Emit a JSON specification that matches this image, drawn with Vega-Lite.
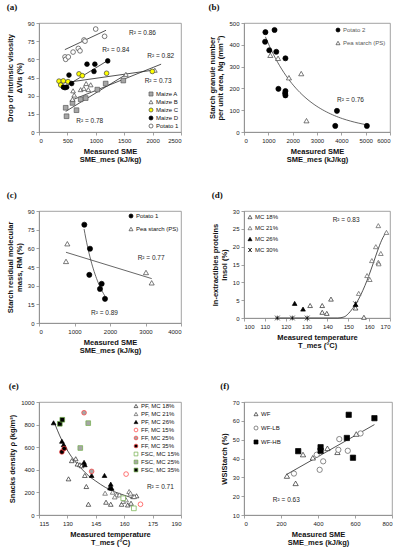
{
  "$schema": "https://vega.github.io/schema/vega-lite/v6.json",
  "padding": {"left": 6, "top": 2, "right": 0, "bottom": 0},
  "background": "white",
  "bounds": "flush",
  "columns": 2,
  "spacing": {"row": 79, "column": 63},
  "resolve": {"scale": {"shape": "independent", "fill": "independent", "stroke": "independent"}},
  "config": {
    "font": "Liberation Sans",
    "view": {"stroke": "#8c8c8c", "strokeWidth": 0.8},
    "axis": {
      "grid": false, "format": "d", "labelFontSize": 6, "labelColor": "#1a1a1a", "labelPadding": 2, "labelOverlap": false,
      "titleFontSize": 7.5, "titleFontWeight": "bold", "titleColor": "#111111", "titleLineHeight": 8.5, "titlePadding": 4,
      "domainColor": "#8c8c8c", "domainWidth": 0.8, "tickColor": "#8c8c8c", "tickWidth": 0.8, "tickSize": 3
    },
    "legend": {"labelFontSize": 6, "labelColor": "#111111", "symbolSize": 16, "symbolStrokeWidth": 0.7, "padding": 0, "rowPadding": 1, "labelOffset": 2},
    "title": {"font": "Liberation Serif", "fontSize": 9, "fontWeight": "bold", "anchor": "start", "frame": "bounds", "color": "#111111"}
  },
  "datasets": {
    "a_pts": [
      {"series": "Maize A", "sme": 470, "dvis": 20}, {"series": "Maize A", "sme": 485, "dvis": 13},
      {"series": "Maize A", "sme": 660, "dvis": 18}, {"series": "Maize A", "sme": 590, "dvis": 24},
      {"series": "Maize A", "sme": 734, "dvis": 27}, {"series": "Maize A", "sme": 822, "dvis": 28},
      {"series": "Maize A", "sme": 1027, "dvis": 35}, {"series": "Maize A", "sme": 1174, "dvis": 40},
      {"series": "Maize A", "sme": 1484, "dvis": 42.5},
      {"series": "Maize B", "sme": 590, "dvis": 27}, {"series": "Maize B", "sme": 600, "dvis": 34},
      {"series": "Maize B", "sme": 620, "dvis": 30.5}, {"series": "Maize B", "sme": 733, "dvis": 35},
      {"series": "Maize B", "sme": 790, "dvis": 36}, {"series": "Maize B", "sme": 830, "dvis": 40},
      {"series": "Maize B", "sme": 868, "dvis": 35}, {"series": "Maize B", "sme": 910, "dvis": 39},
      {"series": "Maize B", "sme": 1530, "dvis": 47.6}, {"series": "Maize B", "sme": 2040, "dvis": 51},
      {"series": "Maize C", "sme": 352, "dvis": 42}, {"series": "Maize C", "sme": 382, "dvis": 38.8},
      {"series": "Maize C", "sme": 428, "dvis": 42.2}, {"series": "Maize C", "sme": 511, "dvis": 41.6},
      {"series": "Maize C", "sme": 704, "dvis": 48}, {"series": "Maize C", "sme": 763, "dvis": 46.5},
      {"series": "Maize C", "sme": 1190, "dvis": 48.5}, {"series": "Maize C", "sme": 1995, "dvis": 50},
      {"series": "Maize D", "sme": 430, "dvis": 37}, {"series": "Maize D", "sme": 458, "dvis": 36.6},
      {"series": "Maize D", "sme": 487, "dvis": 37}, {"series": "Maize D", "sme": 528, "dvis": 47},
      {"series": "Maize D", "sme": 575, "dvis": 40}, {"series": "Maize D", "sme": 845, "dvis": 56},
      {"series": "Maize D", "sme": 983, "dvis": 56}, {"series": "Maize D", "sme": 968, "dvis": 50},
      {"series": "Maize D", "sme": 1210, "dvis": 58.7},
      {"series": "Potato 1", "sme": 458, "dvis": 62}, {"series": "Potato 1", "sme": 470, "dvis": 60},
      {"series": "Potato 1", "sme": 516, "dvis": 62}, {"series": "Potato 1", "sme": 600, "dvis": 66},
      {"series": "Potato 1", "sme": 692, "dvis": 69}, {"series": "Potato 1", "sme": 722, "dvis": 67},
      {"series": "Potato 1", "sme": 792, "dvis": 76}, {"series": "Potato 1", "sme": 810, "dvis": 75},
      {"series": "Potato 1", "sme": 998, "dvis": 85}, {"series": "Potato 1", "sme": 1155, "dvis": 79}
    ],
    "a_fit": [
      {"series": "Maize A", "sme": 470, "dvis": 17}, {"series": "Maize A", "sme": 1550, "dvis": 48},
      {"series": "Maize B", "sme": 560, "dvis": 26}, {"series": "Maize B", "sme": 2150, "dvis": 56},
      {"series": "Maize C", "sme": 350, "dvis": 40}, {"series": "Maize C", "sme": 2000, "dvis": 51},
      {"series": "Maize D", "sme": 410, "dvis": 36}, {"series": "Maize D", "sme": 1210, "dvis": 59},
      {"series": "Potato 1", "sme": 455, "dvis": 68}, {"series": "Potato 1", "sme": 1180, "dvis": 84}
    ],
    "a_r2": [
      {"label": "R² = 0.86", "sme": 1585, "dvis": 82}, {"label": "R² = 0.84", "sme": 1115, "dvis": 68},
      {"label": "R² = 0.82", "sme": 1907, "dvis": 63}, {"label": "R² = 0.73", "sme": 1860, "dvis": 42},
      {"label": "R² = 0.78", "sme": 657, "dvis": 9}
    ],
    "b_pts": [
      {"series": "Potato 2", "sme": 880, "ng": 458}, {"series": "Potato 2", "sme": 866, "ng": 414},
      {"series": "Potato 2", "sme": 1255, "ng": 468}, {"series": "Potato 2", "sme": 1039, "ng": 375},
      {"series": "Potato 2", "sme": 1327, "ng": 368}, {"series": "Potato 2", "sme": 1703, "ng": 338},
      {"series": "Potato 2", "sme": 1414, "ng": 198}, {"series": "Potato 2", "sme": 1703, "ng": 188},
      {"series": "Potato 2", "sme": 1690, "ng": 178}, {"series": "Potato 2", "sme": 1703, "ng": 168},
      {"series": "Potato 2", "sme": 3750, "ng": 28}, {"series": "Potato 2", "sme": 3820, "ng": 97},
      {"series": "Potato 2", "sme": 5050, "ng": 28},
      {"series": "Pea starch (PS)", "sme": 1082, "ng": 352}, {"series": "Pea starch (PS)", "sme": 1400, "ng": 338},
      {"series": "Pea starch (PS)", "sme": 1847, "ng": 249}, {"series": "Pea starch (PS)", "sme": 2352, "ng": 268},
      {"series": "Pea starch (PS)", "sme": 2568, "ng": 52}
    ],
    "b_r2": [{"label": "R² = 0.76", "sme": 3824, "ng": 146}],
    "c_pts": [
      {"series": "Potato 1", "sme": 1277, "rm": 79}, {"series": "Potato 1", "sme": 1437, "rm": 59.7},
      {"series": "Potato 1", "sme": 1417, "rm": 38.7}, {"series": "Potato 1", "sme": 1765, "rm": 31.5},
      {"series": "Potato 1", "sme": 1718, "rm": 27.4}, {"series": "Potato 1", "sme": 1859, "rm": 19.4},
      {"series": "Pea starch (PS)", "sme": 798, "rm": 63.7}, {"series": "Pea starch (PS)", "sme": 761, "rm": 49.5},
      {"series": "Pea starch (PS)", "sme": 3014, "rm": 40.6}, {"series": "Pea starch (PS)", "sme": 3174, "rm": 32.3}
    ],
    "c_r2": [{"label": "R² = 0.77", "sme": 2779, "rm": 52}, {"label": "R² = 0.89", "sme": 1465, "rm": 8}],
    "d_pts": [
      {"series": "MC 18%", "t": 131.7, "insol": 3.5}, {"series": "MC 18%", "t": 137.5, "insol": 3.5},
      {"series": "MC 18%", "t": 137.5, "insol": 1.6}, {"series": "MC 18%", "t": 139.7, "insol": 1.3},
      {"series": "MC 18%", "t": 141.7, "insol": 5.3}, {"series": "MC 18%", "t": 157.5, "insol": 0.2},
      {"series": "MC 18%", "t": 153.5, "insol": 2.8},
      {"series": "MC 21%", "t": 155, "insol": 6.9}, {"series": "MC 21%", "t": 159, "insol": 11.9},
      {"series": "MC 21%", "t": 160.3, "insol": 10.8}, {"series": "MC 21%", "t": 161.3, "insol": 16.1},
      {"series": "MC 21%", "t": 163.2, "insol": 20}, {"series": "MC 21%", "t": 164.4, "insol": 25.9},
      {"series": "MC 21%", "t": 165.6, "insol": 18.1}, {"series": "MC 21%", "t": 164.4, "insol": 15.6},
      {"series": "MC 21%", "t": 164.6, "insol": 15.2}, {"series": "MC 21%", "t": 168.3, "insol": 24},
      {"series": "MC 26%", "t": 124.3, "insol": 4.1}, {"series": "MC 26%", "t": 128.3, "insol": 2.5},
      {"series": "MC 26%", "t": 153.5, "insol": 3.8},
      {"series": "MC 30%", "t": 116, "insol": 0}, {"series": "MC 30%", "t": 123.2, "insol": 0},
      {"series": "MC 30%", "t": 130.3, "insol": 0}, {"series": "MC 30%", "t": 153.5, "insol": 4}
    ],
    "d_fit": [
      {"t": 115, "insol": 0}, {"t": 130, "insol": 0}, {"t": 145, "insol": 0}, {"t": 148, "insol": 0.3},
      {"t": 150, "insol": 1.2}, {"t": 152, "insol": 2.6}, {"t": 154, "insol": 4.3}, {"t": 156, "insol": 6.5},
      {"t": 158, "insol": 9.1}, {"t": 160, "insol": 12.1}, {"t": 162, "insol": 15.4}, {"t": 164, "insol": 18.8},
      {"t": 166, "insol": 21.8}, {"t": 168.3, "insol": 24.2}
    ],
    "d_r2": [{"label": "R² = 0.83", "t": 142.5, "insol": 27.5}],
    "e_pts": [
      {"series": "PF, MC 18%", "t": 130.6, "rho": 320}, {"series": "PF, MC 18%", "t": 132.3, "rho": 481},
      {"series": "PF, MC 18%", "t": 134.4, "rho": 498}, {"series": "PF, MC 18%", "t": 135.3, "rho": 451},
      {"series": "PF, MC 18%", "t": 136.6, "rho": 445}, {"series": "PF, MC 18%", "t": 137.5, "rho": 436},
      {"series": "PF, MC 18%", "t": 139.2, "rho": 350}, {"series": "PF, MC 18%", "t": 140, "rho": 252},
      {"series": "PF, MC 18%", "t": 141.1, "rho": 95}, {"series": "PF, MC 18%", "t": 150.4, "rho": 113},
      {"series": "PF, MC 18%", "t": 152.9, "rho": 95}, {"series": "PF, MC 18%", "t": 158.6, "rho": 95},
      {"series": "PF, MC 18%", "t": 160.2, "rho": 148}, {"series": "PF, MC 18%", "t": 161.9, "rho": 89},
      {"series": "PF, MC 18%", "t": 163.6, "rho": 104}, {"series": "PF, MC 18%", "t": 164.7, "rho": 163},
      {"series": "PF, MC 18%", "t": 166.5, "rho": 170},
      {"series": "PF, MC 21%", "t": 149.9, "rho": 193}, {"series": "PF, MC 21%", "t": 152.5, "rho": 252},
      {"series": "PF, MC 21%", "t": 153.9, "rho": 202}, {"series": "PF, MC 21%", "t": 156, "rho": 178},
      {"series": "PF, MC 21%", "t": 157.5, "rho": 178}, {"series": "PF, MC 21%", "t": 159.5, "rho": 120},
      {"series": "PF, MC 21%", "t": 162.6, "rho": 208}, {"series": "PF, MC 21%", "t": 163.3, "rho": 193},
      {"series": "PF, MC 21%", "t": 161, "rho": 134}, {"series": "PF, MC 21%", "t": 165.3, "rho": 163},
      {"series": "PF, MC 21%", "t": 155, "rho": 160},
      {"series": "PF, MC 26%", "t": 122.7, "rho": 816}, {"series": "PF, MC 26%", "t": 127.1, "rho": 653},
      {"series": "PF, MC 26%", "t": 128, "rho": 623}, {"series": "PF, MC 26%", "t": 128.6, "rho": 600},
      {"series": "PF, MC 26%", "t": 138.8, "rho": 466}, {"series": "PF, MC 26%", "t": 139.2, "rho": 445},
      {"series": "PF, MC 26%", "t": 142.8, "rho": 350}, {"series": "PF, MC 26%", "t": 149.6, "rho": 350},
      {"series": "PF, MC 26%", "t": 153.4, "rho": 237}, {"series": "PF, MC 26%", "t": 152.9, "rho": 273},
      {"series": "PF, MC 26%", "t": 152.5, "rho": 240},
      {"series": "FF, MC 15%", "t": 161, "rho": 362}, {"series": "FF, MC 15%", "t": 168.6, "rho": 95},
      {"series": "FF, MC 25%", "t": 138.8, "rho": 905}, {"series": "FF, MC 25%", "t": 142.8, "rho": 386},
      {"series": "FF, MC 35%", "t": 127.1, "rho": 558}, {"series": "FF, MC 35%", "t": 128.3, "rho": 588},
      {"series": "FSC, MC 15%", "t": 159.5, "rho": 148}, {"series": "FSC, MC 15%", "t": 165.1, "rho": 59},
      {"series": "FSC, MC 25%", "t": 141, "rho": 813}, {"series": "FSC, MC 25%", "t": 136.8, "rho": 593},
      {"series": "FSC, MC 35%", "t": 126, "rho": 807}, {"series": "FSC, MC 35%", "t": 127.3, "rho": 843}
    ],
    "e_fit": [
      {"t": 123.4, "rho": 805}, {"t": 126, "rho": 700}, {"t": 129, "rho": 600}, {"t": 132, "rho": 520},
      {"t": 135, "rho": 455}, {"t": 138, "rho": 400}, {"t": 141, "rho": 350}, {"t": 145, "rho": 300},
      {"t": 150, "rho": 245}, {"t": 155, "rho": 205}, {"t": 160, "rho": 175}, {"t": 164.5, "rho": 150}
    ],
    "e_r2": [{"label": "R² = 0.71", "t": 172, "rho": 245}],
    "f_pts": [
      {"series": "WF", "sme": 232, "wsi": 30.7}, {"series": "WF", "sme": 279, "wsi": 26.8},
      {"series": "WF", "sme": 319, "wsi": 42.1}, {"series": "WF", "sme": 372, "wsi": 40.4},
      {"series": "WF", "sme": 451, "wsi": 45.4}, {"series": "WF", "sme": 607, "wsi": 53},
      {"series": "WF", "sme": 505, "wsi": 43.3},
      {"series": "WF-LB", "sme": 270, "wsi": 32}, {"series": "WF-LB", "sme": 393, "wsi": 42},
      {"series": "WF-LB", "sme": 428, "wsi": 38.5}, {"series": "WF-LB", "sme": 409, "wsi": 34},
      {"series": "WF-LB", "sme": 515, "wsi": 50.3}, {"series": "WF-LB", "sme": 510, "wsi": 44.6},
      {"series": "WF-LB", "sme": 561, "wsi": 44.1}, {"series": "WF-LB", "sme": 630, "wsi": 53.3},
      {"series": "WF-HB", "sme": 293, "wsi": 43.9}, {"series": "WF-HB", "sme": 414, "wsi": 46},
      {"series": "WF-HB", "sme": 414, "wsi": 44.1}, {"series": "WF-HB", "sme": 566, "wsi": 63.2},
      {"series": "WF-HB", "sme": 556, "wsi": 50.9}, {"series": "WF-HB", "sme": 589, "wsi": 40.4},
      {"series": "WF-HB", "sme": 705, "wsi": 61.4}
    ],
    "f_fit": [{"sme": 230, "wsi": 31.5}, {"sme": 705, "wsi": 58}],
    "f_r2": [{"label": "R² = 0.63", "sme": 156, "wsi": 17.7}]
  },
  "concat": [
    {
      "title": {"text": "(a)", "offset": 8},
      "width": 142, "height": 109,
      "encoding": {
        "x": {"field": "sme", "type": "quantitative", "scale": {"domain": [0, 2500], "nice": false},
          "axis": {"values": [0, 500, 1000, 1500, 2000, 2500], "title": ["Measured SME", "SME_mes (kJ/kg)"]}},
        "y": {"field": "dvis", "type": "quantitative", "scale": {"domain": [0, 90], "nice": false},
          "axis": {"values": [0, 15, 30, 45, 60, 75, 90], "title": ["Drop of intrinsic visosity", "ΔVIs (%)"]}}
      },
      "layer": [
        {"data": {"name": "a_fit"}, "mark": {"type": "line", "color": "#262626", "strokeWidth": 0.8},
          "encoding": {"detail": {"field": "series", "type": "nominal"}}},
        {"data": {"name": "a_pts"}, "mark": {"type": "point", "filled": true, "size": 22, "strokeWidth": 0.7, "opacity": 1},
          "encoding": {
            "shape": {"field": "series", "type": "nominal", "title": null,
              "scale": {"domain": ["Maize A", "Maize B", "Maize C", "Maize D", "Potato 1"], "range": ["square", "triangle-up", "circle", "circle", "circle"]},
              "legend": {"orient": "bottom-right", "offset": 2, "rowPadding": 0}},
            "fill": {"field": "series", "type": "nominal", "title": null,
              "scale": {"domain": ["Maize A", "Maize B", "Maize C", "Maize D", "Potato 1"], "range": ["#a6a6a6", "#ffffff", "#ffff00", "#000000", "#ffffff"]},
              "legend": {"orient": "bottom-right", "offset": 2, "rowPadding": 0}},
            "stroke": {"field": "series", "type": "nominal", "title": null,
              "scale": {"domain": ["Maize A", "Maize B", "Maize C", "Maize D", "Potato 1"], "range": ["#595959", "#404040", "#404040", "#000000", "#404040"]},
              "legend": {"orient": "bottom-right", "offset": 2, "rowPadding": 0}}
          }},
        {"data": {"name": "a_r2"}, "mark": {"type": "text", "align": "left", "baseline": "middle", "fontSize": 6.5, "color": "#262626"},
          "encoding": {"text": {"field": "label", "type": "nominal"}}}
      ]
    },
    {
      "title": {"text": "(b)", "offset": 8},
      "width": 146, "height": 109,
      "encoding": {
        "x": {"field": "sme", "type": "quantitative", "scale": {"domain": [0, 6000], "nice": false},
          "axis": {"values": [0, 1000, 2000, 3000, 4000, 5000, 6000], "title": ["Measured SME", "SME_mes (kJ/kg)"]}},
        "y": {"field": "ng", "type": "quantitative", "scale": {"domain": [0, 500], "nice": false},
          "axis": {"values": [0, 100, 200, 300, 400, 500], "title": ["Starch granule number", "per unit area, Ng (mm⁻²)"]}}
      },
      "layer": [
        {"data": {"name": "b_pts"}, "transform": [{"regression": "ng", "on": "sme", "method": "exp", "extent": [880, 5050]}],
          "mark": {"type": "line", "color": "#404040", "strokeWidth": 0.8}, "encoding": {}},
        {"data": {"name": "b_pts"}, "mark": {"type": "point", "filled": true, "size": 26, "strokeWidth": 0.7, "opacity": 1},
          "encoding": {
            "shape": {"field": "series", "type": "nominal", "title": null,
              "scale": {"domain": ["Potato 2", "Pea starch (PS)"], "range": ["circle", "triangle-up"]},
              "legend": {"orient": "top-right", "offset": 4, "rowPadding": 5, "labelColor": "#595959"}},
            "fill": {"field": "series", "type": "nominal", "title": null,
              "scale": {"domain": ["Potato 2", "Pea starch (PS)"], "range": ["#000000", "#ffffff"]},
              "legend": {"orient": "top-right", "offset": 4, "rowPadding": 5, "labelColor": "#595959"}},
            "stroke": {"field": "series", "type": "nominal", "title": null,
              "scale": {"domain": ["Potato 2", "Pea starch (PS)"], "range": ["#000000", "#404040"]},
              "legend": {"orient": "top-right", "offset": 4, "rowPadding": 5, "labelColor": "#595959"}}
          }},
        {"data": {"name": "b_r2"}, "mark": {"type": "text", "align": "left", "baseline": "middle", "fontSize": 6.5, "color": "#262626"},
          "encoding": {"text": {"field": "label", "type": "nominal"}}}
      ]
    },
    {
      "title": {"text": "(c)", "offset": 8},
      "width": 142, "height": 112,
      "encoding": {
        "x": {"field": "sme", "type": "quantitative", "scale": {"domain": [0, 4000], "nice": false},
          "axis": {"values": [0, 1000, 2000, 3000, 4000], "title": ["Measured SME", "SME_mes (kJ/kg)"]}},
        "y": {"field": "rm", "type": "quantitative", "scale": {"domain": [0, 90], "nice": false},
          "axis": {"values": [0, 15, 30, 45, 60, 75, 90], "title": ["Starch residual molecular", "mass, RM (%)"]}}
      },
      "layer": [
        {"data": {"name": "c_pts"}, "transform": [{"filter": "datum.series === 'Potato 1'"}, {"regression": "rm", "on": "sme", "method": "exp", "extent": [1270, 1860]}],
          "mark": {"type": "line", "color": "#404040", "strokeWidth": 0.8}, "encoding": {}},
        {"data": {"name": "c_pts"}, "transform": [{"filter": "datum.series === 'Pea starch (PS)'"}, {"regression": "rm", "on": "sme", "extent": [760, 3175]}],
          "mark": {"type": "line", "color": "#404040", "strokeWidth": 0.8}, "encoding": {}},
        {"data": {"name": "c_pts"}, "mark": {"type": "point", "filled": true, "size": 26, "strokeWidth": 0.7, "opacity": 1},
          "encoding": {
            "shape": {"field": "series", "type": "nominal", "title": null,
              "scale": {"domain": ["Potato 1", "Pea starch (PS)"], "range": ["circle", "triangle-up"]},
              "legend": {"orient": "top-right", "offset": 2, "rowPadding": 5}},
            "fill": {"field": "series", "type": "nominal", "title": null,
              "scale": {"domain": ["Potato 1", "Pea starch (PS)"], "range": ["#000000", "#ffffff"]},
              "legend": {"orient": "top-right", "offset": 2, "rowPadding": 5}},
            "stroke": {"field": "series", "type": "nominal", "title": null,
              "scale": {"domain": ["Potato 1", "Pea starch (PS)"], "range": ["#000000", "#404040"]},
              "legend": {"orient": "top-right", "offset": 2, "rowPadding": 5}}
          }},
        {"data": {"name": "c_r2"}, "mark": {"type": "text", "align": "left", "baseline": "middle", "fontSize": 6.5, "color": "#262626"},
          "encoding": {"text": {"field": "label", "type": "nominal"}}}
      ]
    },
    {
      "title": {"text": "(d)", "offset": 8},
      "width": 146, "height": 107,
      "encoding": {
        "x": {"field": "t", "type": "quantitative", "scale": {"domain": [100, 170], "nice": false, "zero": false},
          "axis": {"values": [100, 110, 120, 130, 140, 150, 160, 170], "title": ["Measured temperature", "T_mes (°C)"]}},
        "y": {"field": "insol", "type": "quantitative", "scale": {"domain": [0, 30], "nice": false},
          "axis": {"values": [0, 5, 10, 15, 20, 25, 30], "title": ["In-extractibles proteins", "Insol (%)"]}}
      },
      "layer": [
        {"data": {"name": "d_fit"}, "mark": {"type": "line", "color": "#262626", "strokeWidth": 0.8, "interpolate": "monotone"}, "encoding": {}},
        {"data": {"name": "d_pts"}, "mark": {"type": "point", "filled": true, "size": 22, "strokeWidth": 0.7, "opacity": 1},
          "encoding": {
            "shape": {"field": "series", "type": "nominal", "title": null,
              "scale": {"domain": ["MC 18%", "MC 21%", "MC 26%", "MC 30%"], "range": ["triangle-up", "triangle-up", "triangle-up", "M-1,-1L1,1M-1,1L1,-1M0,-1L0,1"]},
              "legend": {"orient": "top-left", "offset": 3, "rowPadding": 3}},
            "fill": {"field": "series", "type": "nominal", "title": null,
              "scale": {"domain": ["MC 18%", "MC 21%", "MC 26%", "MC 30%"], "range": ["#ffffff", "#ffffff", "#000000", "transparent"]},
              "legend": {"orient": "top-left", "offset": 3, "rowPadding": 3}},
            "stroke": {"field": "series", "type": "nominal", "title": null,
              "scale": {"domain": ["MC 18%", "MC 21%", "MC 26%", "MC 30%"], "range": ["#262626", "#595959", "#000000", "#000000"]},
              "legend": {"orient": "top-left", "offset": 3, "rowPadding": 3}}
          }},
        {"data": {"name": "d_r2"}, "mark": {"type": "text", "align": "left", "baseline": "middle", "fontSize": 6.5, "color": "#262626"},
          "encoding": {"text": {"field": "label", "type": "nominal"}}}
      ]
    },
    {
      "title": {"text": "(e)", "offset": 8},
      "width": 142, "height": 113,
      "encoding": {
        "x": {"field": "t", "type": "quantitative", "scale": {"domain": [115, 190], "nice": false, "zero": false},
          "axis": {"values": [115, 130, 145, 160, 175, 190], "title": ["Measured temperature", "T_mes (°C)"]}},
        "y": {"field": "rho", "type": "quantitative", "scale": {"domain": [0, 1000], "nice": false},
          "axis": {"values": [0, 200, 400, 600, 800, 1000], "title": "Snacks density ρ (kg/m³)"}}
      },
      "layer": [
        {"data": {"name": "e_fit"}, "mark": {"type": "line", "color": "#262626", "strokeWidth": 0.8, "interpolate": "monotone"}, "encoding": {}},
        {"data": {"name": "e_pts"}, "mark": {"type": "point", "filled": true, "size": 22, "strokeWidth": 0.7, "opacity": 1},
          "encoding": {
            "shape": {"field": "series", "type": "nominal", "title": null,
              "scale": {"domain": ["PF, MC 18%", "PF, MC 21%", "PF, MC 26%", "FF, MC 15%", "FF, MC 25%", "FF, MC 35%", "FSC, MC 15%", "FSC, MC 25%", "FSC, MC 35%"],
                "range": ["triangle-up", "triangle-up", "triangle-up", "circle", "circle", "circle", "square", "square", "square"]},
              "legend": {"orient": "top-right", "offset": 1, "rowPadding": 0, "symbolSize": 14}},
            "fill": {"field": "series", "type": "nominal", "title": null,
              "scale": {"domain": ["PF, MC 18%", "PF, MC 21%", "PF, MC 26%", "FF, MC 15%", "FF, MC 25%", "FF, MC 35%", "FSC, MC 15%", "FSC, MC 25%", "FSC, MC 35%"],
                "range": ["#ffffff", "#ffffff", "#000000", "#ffffff", "#a6a6a6", "#000000", "#ffffff", "#a6a6a6", "#000000"]},
              "legend": {"orient": "top-right", "offset": 1, "rowPadding": 0, "symbolSize": 14}},
            "stroke": {"field": "series", "type": "nominal", "title": null,
              "scale": {"domain": ["PF, MC 18%", "PF, MC 21%", "PF, MC 26%", "FF, MC 15%", "FF, MC 25%", "FF, MC 35%", "FSC, MC 15%", "FSC, MC 25%", "FSC, MC 35%"],
                "range": ["#262626", "#595959", "#000000", "#ff3b3b", "#ff3b3b", "#ff3b3b", "#70ad47", "#70ad47", "#70ad47"]},
              "legend": {"orient": "top-right", "offset": 1, "rowPadding": 0, "symbolSize": 14}}
          }},
        {"data": {"name": "e_r2"}, "mark": {"type": "text", "align": "left", "baseline": "middle", "fontSize": 6.5, "color": "#262626"},
          "encoding": {"text": {"field": "label", "type": "nominal"}}}
      ]
    },
    {
      "title": {"text": "(f)", "offset": 8},
      "width": 148, "height": 113,
      "encoding": {
        "x": {"field": "sme", "type": "quantitative", "scale": {"domain": [0, 800], "nice": false},
          "axis": {"values": [0, 200, 400, 600, 800], "title": ["Measured SME", "SME_mes (kJ/kg)"]}},
        "y": {"field": "wsi", "type": "quantitative", "scale": {"domain": [10, 70], "nice": false, "zero": false},
          "axis": {"values": [10, 20, 30, 40, 50, 60, 70], "title": "WSIStarch (%)"}}
      },
      "layer": [
        {"data": {"name": "f_fit"}, "mark": {"type": "line", "color": "#262626", "strokeWidth": 0.8}, "encoding": {}},
        {"data": {"name": "f_pts"}, "mark": {"type": "point", "filled": true, "size": 28, "strokeWidth": 0.7, "opacity": 1},
          "encoding": {
            "shape": {"field": "series", "type": "nominal", "title": null,
              "scale": {"domain": ["WF", "WF-LB", "WF-HB"], "range": ["triangle-up", "circle", "square"]},
              "legend": {"orient": "top-left", "offset": 9, "rowPadding": 6}},
            "fill": {"field": "series", "type": "nominal", "title": null,
              "scale": {"domain": ["WF", "WF-LB", "WF-HB"], "range": ["#ffffff", "#ffffff", "#000000"]},
              "legend": {"orient": "top-left", "offset": 9, "rowPadding": 6}},
            "stroke": {"field": "series", "type": "nominal", "title": null,
              "scale": {"domain": ["WF", "WF-LB", "WF-HB"], "range": ["#262626", "#595959", "#000000"]},
              "legend": {"orient": "top-left", "offset": 9, "rowPadding": 6}}
          }},
        {"data": {"name": "f_r2"}, "mark": {"type": "text", "align": "left", "baseline": "middle", "fontSize": 6.5, "color": "#262626"},
          "encoding": {"text": {"field": "label", "type": "nominal"}}}
      ]
    }
  ]
}
